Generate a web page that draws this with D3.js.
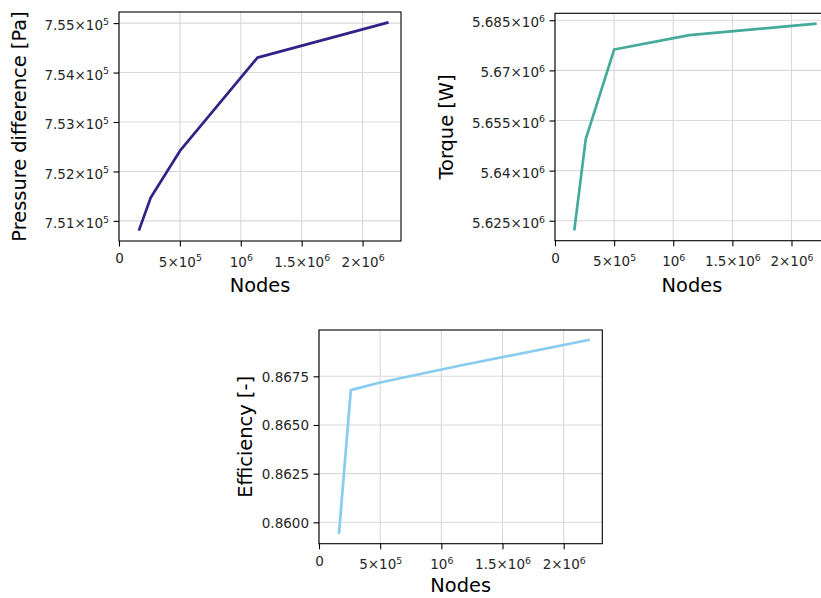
<!DOCTYPE html>
<html>
<head>
<meta charset="utf-8">
<script src="https://cdn.jsdelivr.net/npm/d3@7"></script>
<style>
  body { margin: 0; background: #fff; }
  svg { display: block; font-family: 'DejaVu Sans', sans-serif; }
  .tick text { font-size: 13.5px; fill: #262626; }
  .tick line { stroke: #000; stroke-width: 1.1; }
  .grid line { stroke: #d9d9d9; stroke-width: 1.1; }
  .axisLabel { font-size: 19.4px; fill: #000; }
</style>
</head>
<body>
<div id="chart"></div>
<script>
// mesh sizes and the three monitored quantities
const nodes = [163000, 260000, 500000, 1137000, 2213000]
const pressureDiff = [750804, 751469, 752415, 754302, 755014]
const torque = [5622119, 5649416, 5676238, 5680574, 5683990]
const efficiency = [0.85940, 0.86679, 0.86718, 0.86803, 0.86938]

// tick values and labels ('^' marks the exponent)
const xTicks = [0, 5e5, 1e6, 1.5e6, 2e6]
const xTickLabels = ['0', '5×10^5', '10^6', '1.5×10^6', '2×10^6']
const pressureTicks = [7.51e5, 7.52e5, 7.53e5, 7.54e5, 7.55e5]
const pressureTickLabels = ['7.51×10^5', '7.52×10^5', '7.53×10^5', '7.54×10^5', '7.55×10^5']
const torqueTicks = [5.625e6, 5.64e6, 5.655e6, 5.67e6, 5.685e6]
const torqueTickLabels = ['5.625×10^6', '5.64×10^6', '5.655×10^6', '5.67×10^6', '5.685×10^6']
const effTicks = [0.86, 0.8625, 0.865, 0.8675]
const effTickLabels = ['0.8600', '0.8625', '0.8650', '0.8675']

const svg = d3.select('#chart').append('svg')
  .attr('width', 821)
  .attr('height', 598)

svg.append('rect').attr('width', 821).attr('height', 598).attr('fill', '#fff')

// writes a label like '5×10^5' as base text plus a raised exponent
function writeLabel(text, label) {
  const parts = label.split('^')
  text.text(null)
  text.append('tspan').text(parts[0])
  if (parts.length > 1) {
    text.append('tspan')
      .attr('dy', -5.2)
      .attr('font-size', '9.4px')
      .text(parts[1])
  }
}

function drawPanel(box, values, color, yTicks, yTickLabels, yLabel, yLabelX, xLabelY) {
  const g = svg.append('g')
    .attr('transform', 'translate(' + box.left + ',' + box.top + ')')

  const xMin = d3.min(nodes), xMax = d3.max(nodes)
  const xScale = d3.scaleLinear()
    .domain([0, xMax + 0.05 * (xMax - xMin)])
    .range([0, box.width])

  const yMin = d3.min(values), yMax = d3.max(values)
  const yPad = 0.05 * (yMax - yMin)
  const yScale = d3.scaleLinear()
    .domain([yMin - yPad, yMax + yPad])
    .range([box.height, 0])

  // grid
  const grid = g.append('g').attr('class', 'grid')
  grid.selectAll('.gx')
    .data(xTicks).enter()
    .append('line')
      .attr('x1', (d) => xScale(d)).attr('x2', (d) => xScale(d))
      .attr('y1', 0).attr('y2', box.height)
  grid.selectAll('.gy')
    .data(yTicks).enter()
    .append('line')
      .attr('x1', 0).attr('x2', box.width)
      .attr('y1', (d) => yScale(d)).attr('y2', (d) => yScale(d))

  // data line
  const line = d3.line()
    .x((d, i) => xScale(nodes[i]))
    .y((d) => yScale(d))

  g.append('path')
    .datum(values)
    .attr('fill', 'none')
    .attr('stroke', color)
    .attr('stroke-width', 2.7)
    .attr('stroke-linejoin', 'round')
    .attr('d', line)

  // frame
  g.append('rect')
    .attr('width', box.width)
    .attr('height', box.height)
    .attr('fill', 'none')
    .attr('stroke', '#000')
    .attr('stroke-width', 1.1)

  // x axis
  const xAxis = g.append('g')
    .attr('transform', 'translate(0,' + box.height + ')')
    .call(d3.axisBottom(xScale).tickValues(xTicks).tickSize(5.5).tickFormat((d, i) => xTickLabels[i]))
  xAxis.select('.domain').remove()
  xAxis.selectAll('.tick text')
    .attr('dy', null)
    .attr('y', (d, i) => xTickLabels[i].includes('^') ? 25.5 : 22)
    .each(function(d, i) { writeLabel(d3.select(this), xTickLabels[i]) })
  xAxis.attr('font-family', null).attr('font-size', null)

  // y axis
  const yAxis = g.append('g')
    .call(d3.axisLeft(yScale).tickValues(yTicks).tickSize(5.5).tickFormat((d, i) => yTickLabels[i]))
  yAxis.select('.domain').remove()
  yAxis.selectAll('.tick text')
    .attr('dy', null)
    .attr('x', -10)
    .attr('y', (d, i) => yTickLabels[i].includes('^') ? 6.6 : 4.8)
    .each(function(d, i) { writeLabel(d3.select(this), yTickLabels[i]) })
  yAxis.attr('font-family', null).attr('font-size', null)

  // axis titles
  g.append('text')
    .attr('class', 'axisLabel')
    .attr('text-anchor', 'middle')
    .attr('x', box.width / 2)
    .attr('y', xLabelY - box.top)
    .text('Nodes')

  g.append('text')
    .attr('class', 'axisLabel')
    .attr('text-anchor', 'middle')
    .attr('transform', 'translate(' + (yLabelX - box.left) + ',' + (box.height / 2) + ') rotate(-90)')
    .text(yLabel)
}

drawPanel({left: 119, top: 12, width: 282, height: 229}, pressureDiff, '#332288',
  pressureTicks, pressureTickLabels, 'Pressure difference [Pa]', 26, 292)
drawPanel({left: 555, top: 13.3, width: 273.8, height: 227.4}, torque, '#44AA99',
  torqueTicks, torqueTickLabels, 'Torque [W]', 453, 292)
drawPanel({left: 319, top: 330, width: 283.3, height: 213.7}, efficiency, '#88CCEE',
  effTicks, effTickLabels, 'Efficiency [-]', 252, 591.5)
</script>
</body>
</html>
